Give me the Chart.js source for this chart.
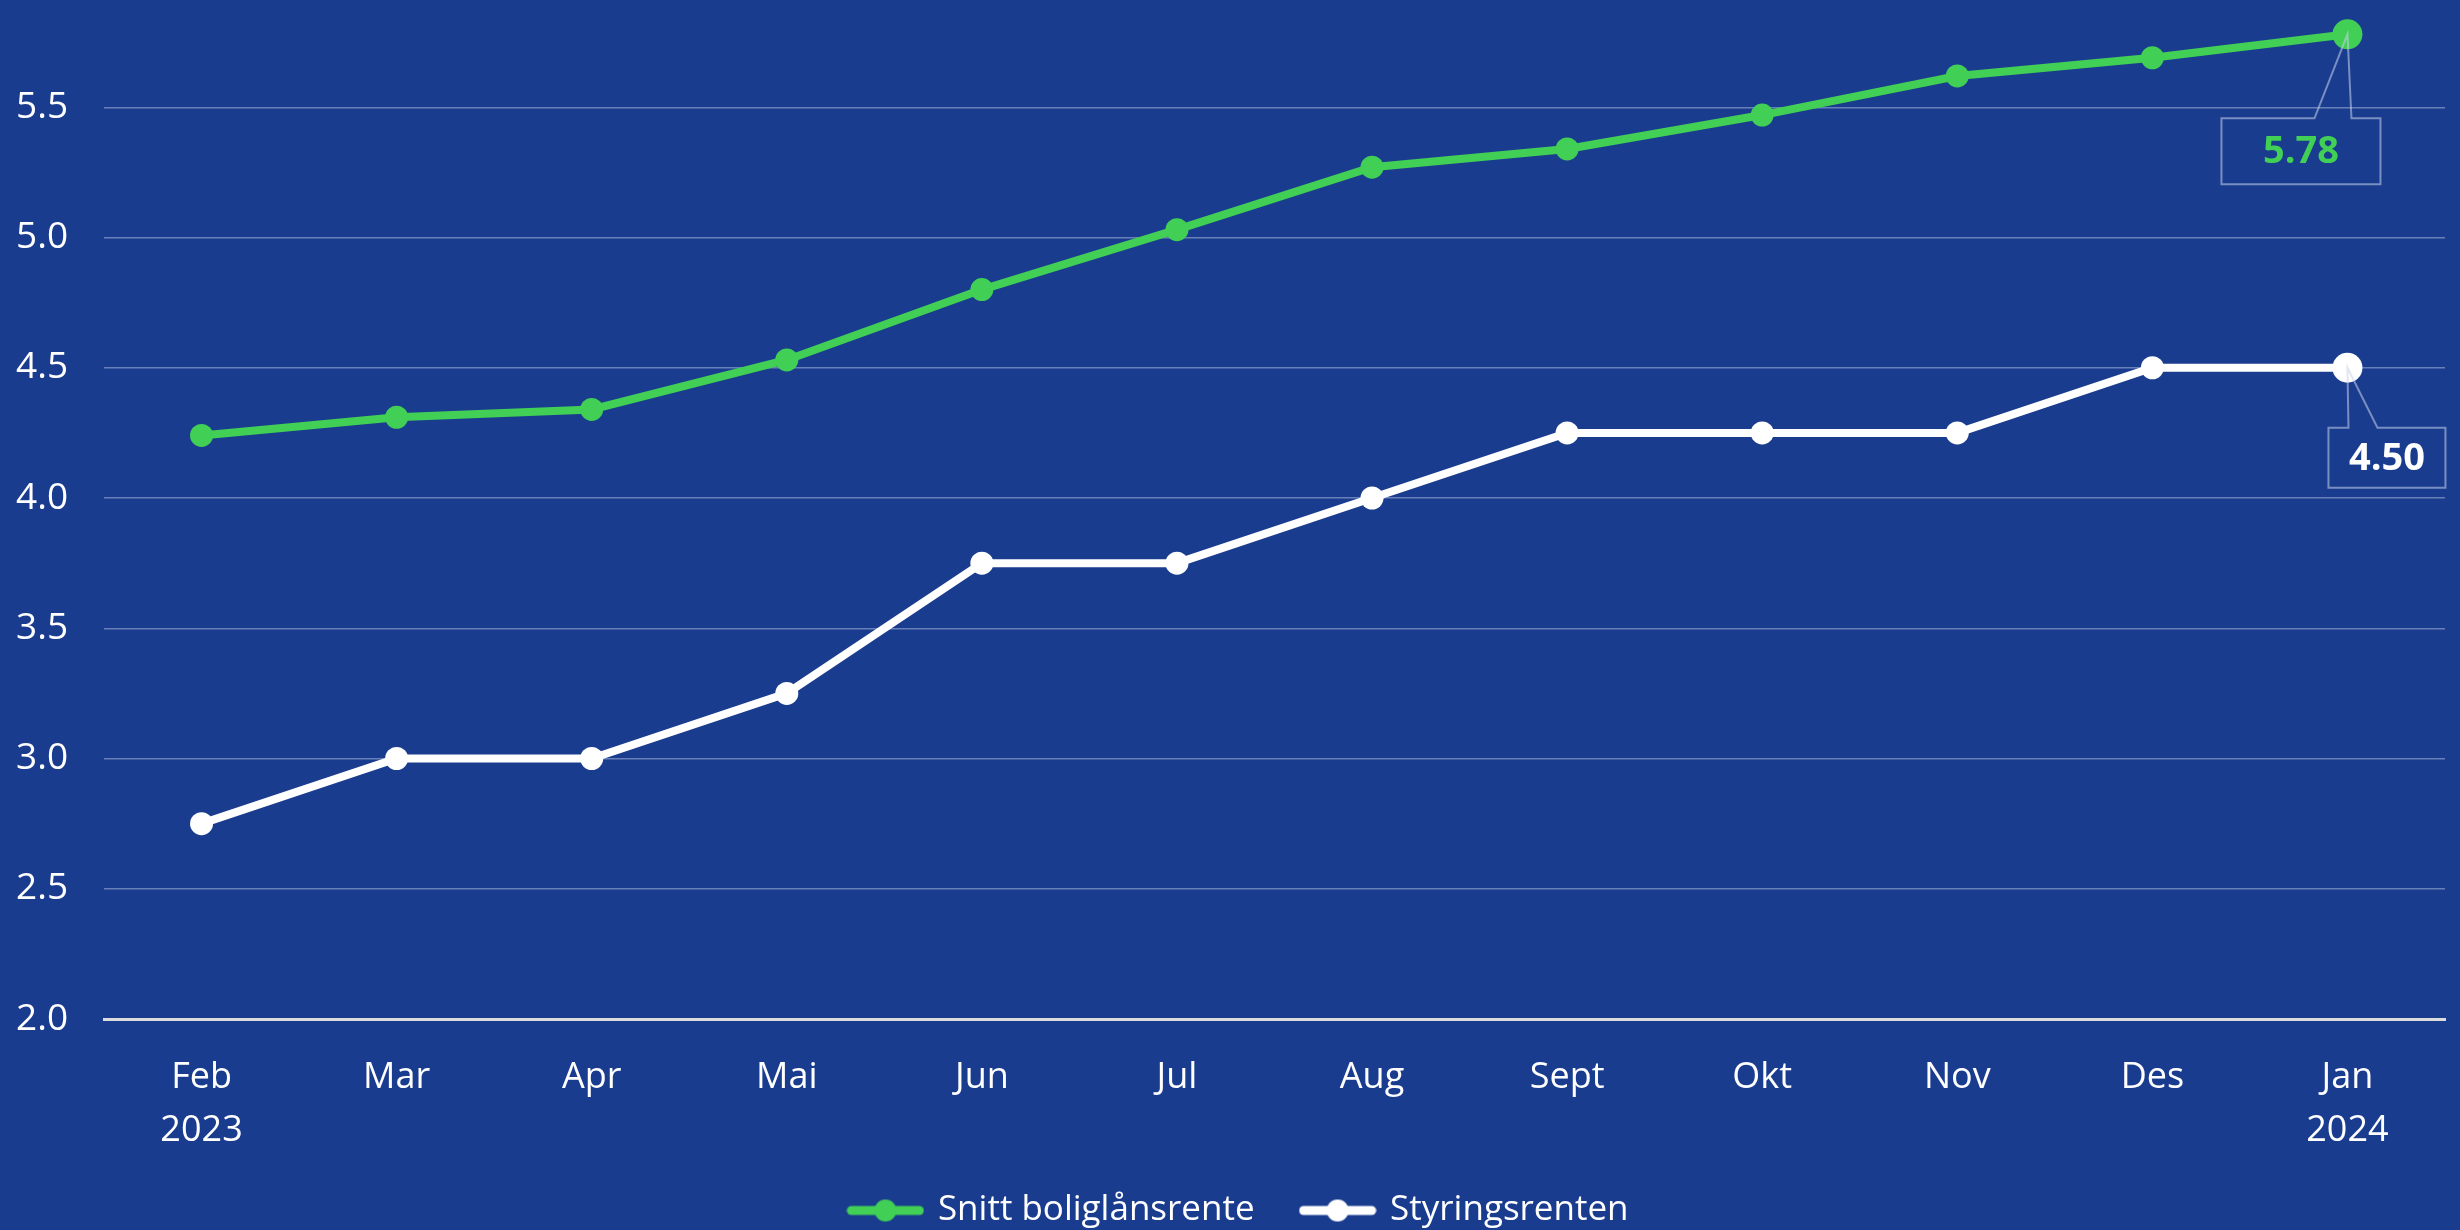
<!DOCTYPE html>
<html>
<head>
<meta charset="utf-8">
<script src="https://cdn.jsdelivr.net/npm/chart.js@4"></script>
<style>
  html, body { margin: 0; padding: 0; background: #1a3c8f; overflow: hidden; width: 2460px; height: 1230px; }
  /* the reference is cropped at the top: the canvas starts above the window */
  #wrap { width: 2460px; height: 1361px; margin-top: -123px; }
</style>
</head>
<body>
<div id="wrap"><canvas id="grafico"></canvas></div>
<script>
// Data
const maaneder = [["Feb", "2023"], "Mar", "Apr", "Mai", "Jun", "Jul", "Aug", "Sept", "Okt", "Nov", "Des", ["Jan", "2024"]];
const boliglansrente = [4.24, 4.31, 4.34, 4.53, 4.80, 5.03, 5.27, 5.34, 5.47, 5.62, 5.69, 5.78];
const styringsrente = [2.75, 3.00, 3.00, 3.25, 3.75, 3.75, 4.00, 4.25, 4.25, 4.25, 4.50, 4.50];
const serieNavn = ["Snitt boliglånsrente", "Styringsrenten"];
const yTicks = [2.0, 2.5, 3.0, 3.5, 4.0, 4.5, 5.0, 5.5];

const GRONN = "#41cf55";
const HVIT = "#ffffff";
const FONT = "'Open Sans', sans-serif";

// Radius: bigger marker on the last point
function radier(n, vanlig, siste) {
  return Array.from({ length: n }, (_, i) => (i === n - 1 ? siste : vanlig));
}

// Legend icon: line with a dot in the middle
function lagIkon(farge) {
  const c = document.createElement("canvas");
  c.width = 78; c.height = 26;
  const g = c.getContext("2d");
  g.strokeStyle = farge; g.lineWidth = 9; g.lineCap = "round";
  g.beginPath(); g.moveTo(5, 13); g.lineTo(73, 13); g.stroke();
  g.fillStyle = farge;
  g.beginPath(); g.arc(39, 13, 11, 0, Math.PI * 2); g.fill();
  return c;
}
const ikoner = [lagIkon(GRONN), lagIkon(HVIT)];

// Callout labels for the last value of each series (offsets from the point)
const etiketter = [
  { dataset: 0, tekst: "5.78", farge: GRONN, boks: [-126, 84, 159, 66], fot: [-33, 4] },
  { dataset: 1, tekst: "4.50", farge: HVIT, boks: [-19, 60, 117, 60], fot: [1, 30] }
];

const etikettPlugin = {
  id: "etiketter",
  afterDatasetsDraw(chart) {
    const ctx = chart.ctx;
    etiketter.forEach(e => {
      const meta = chart.getDatasetMeta(e.dataset);
      const p = meta.data[meta.data.length - 1];
      const [bx, by, bw, bh] = e.boks;
      const x0 = p.x + bx, y0 = p.y + by;
      ctx.save();
      ctx.strokeStyle = "rgba(200,210,235,0.55)";
      ctx.lineWidth = 2;
      ctx.beginPath();
      ctx.moveTo(x0, y0);
      ctx.lineTo(p.x + e.fot[0], y0);
      ctx.lineTo(p.x, p.y);
      ctx.lineTo(p.x + e.fot[1], y0);
      ctx.lineTo(x0 + bw, y0);
      ctx.lineTo(x0 + bw, y0 + bh);
      ctx.lineTo(x0, y0 + bh);
      ctx.closePath();
      ctx.stroke();
      ctx.fillStyle = e.farge;
      ctx.font = "bold 38px " + FONT;
      ctx.textAlign = "center";
      ctx.textBaseline = "middle";
      ctx.fillText(e.tekst, x0 + bw / 2, y0 + bh / 2 + 1);
      ctx.restore();
    });
  }
};

const ctx = document.getElementById("grafico").getContext("2d");
new Chart(ctx, {
  type: "line",
  data: {
    labels: maaneder,
    datasets: [
      {
        label: serieNavn[0],
        data: boliglansrente,
        borderColor: GRONN,
        backgroundColor: GRONN,
        borderWidth: 8,
        pointRadius: radier(boliglansrente.length, 11.5, 15),
        pointBorderWidth: 0,
        tension: 0
      },
      {
        label: serieNavn[1],
        data: styringsrente,
        borderColor: HVIT,
        backgroundColor: HVIT,
        borderWidth: 8,
        pointRadius: radier(styringsrente.length, 11.5, 15),
        pointBorderWidth: 0,
        tension: 0
      }
    ]
  },
  options: {
    responsive: true,
    maintainAspectRatio: false,
    animation: false,
    layout: { padding: { left: 32, right: 13, top: 100, bottom: 0 } },
    scales: {
      x: {
        offset: true,
        grid: { display: false, drawTicks: false },
        border: { color: "#dcdcdc", width: 3 },
        afterFit: s => { s.height = 126; },
        ticks: {
          color: HVIT,
          font: { family: FONT, size: 36, lineHeight: 1.45 },
          padding: 33,
          maxRotation: 0,
          autoSkip: false
        }
      },
      y: {
        min: 2.0,
        max: 6.0,
        afterBuildTicks: axis => { axis.ticks = yTicks.map(v => ({ value: v })); },
        afterFit: s => { s.width = 72; },
        grid: { color: "rgba(200,210,235,0.45)", lineWidth: 1.5, drawTicks: false },
        border: { display: false },
        ticks: {
          color: HVIT,
          font: { family: FONT, size: 37 },
          mirror: true,
          padding: -88,
          callback: v => v.toFixed(1)
        }
      }
    },
    plugins: {
      legend: {
        position: "bottom",
        labels: {
          color: HVIT,
          font: { family: FONT, size: 35 },
          usePointStyle: true,
          pointStyleWidth: 70,
          padding: 48,
          generateLabels(chart) {
            const items = Chart.defaults.plugins.legend.labels.generateLabels(chart);
            items.forEach((it, i) => { it.pointStyle = ikoner[i]; });
            return items;
          }
        }
      },
      tooltip: { enabled: false }
    }
  },
  plugins: [etikettPlugin]
});
</script>
</body>
</html>
